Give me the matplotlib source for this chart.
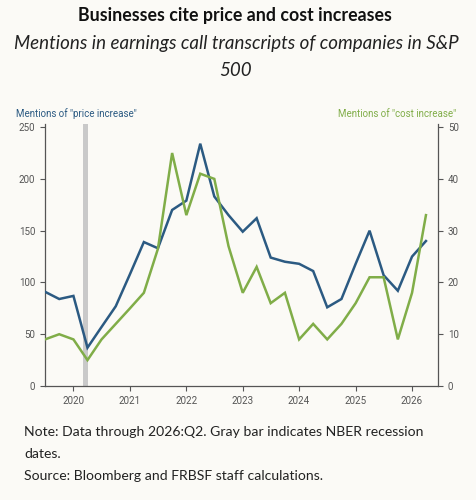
import matplotlib
matplotlib.use("Agg")
import matplotlib.pyplot as plt
import pandas as pd

quarters = pd.period_range("2019Q3", "2026Q2", freq="Q")
price_increase = [91, 84, 87, 37, 57, 77, 108, 139, 133, 170, 179, 234, 183, 165,
                  149, 162, 124, 120, 118, 111, 76, 84, 118, 150, 107, 92, 125, 140]
cost_increase = [9, 10, 9, 5, 9, 12, 15, 18, 26.5, 45, 33, 41, 40, 27,
                 18, 23, 16, 18, 9, 12, 9, 12, 16, 21, 21, 9, 18, 33]
recession = ("2020-03-01", "2020-04-05")
year_ticks = [str(y) for y in range(2020, 2027)]

BLUE = "#2b5a82"
GREEN = "#80ad48"
BG = "#fbfaf6"
GRAY = "#555555"

plt.rcParams["font.family"] = ["Lato", "DejaVu Sans"]

dates = quarters.start_time

fig = plt.figure(figsize=(4.77, 5.0), dpi=100, facecolor=BG)
ax = fig.add_axes([45/477, 1-386/500, 393/477, 262/500], facecolor=BG)
ax2 = ax.twinx()

ax.axvspan(pd.Timestamp(recession[0]), pd.Timestamp(recession[1]), color="#c9c9c9", lw=0, zorder=0)
ax.plot(dates, price_increase, color=BLUE, lw=1.8, zorder=3, solid_joinstyle="miter")
ax2.plot(dates, cost_increase, color=GREEN, lw=1.8, zorder=2, solid_joinstyle="miter")

ax.set_ylim(0, 253)
ax2.set_ylim(0, 253/5)
ax.set_yticks(range(0, 251, 50))
ax2.set_yticks(range(0, 51, 10))
ax.set_xlim(pd.Timestamp("2019-07-01"), pd.Timestamp("2026-06-18"))
ax.set_xticks([pd.Timestamp(f"{y}-01-01") for y in year_ticks])
ax.set_xticklabels(year_ticks)

for a in (ax, ax2):
    a.spines["top"].set_visible(False)
    for s in a.spines.values():
        s.set_color("#555555")
        s.set_linewidth(0.9)
    a.tick_params(colors="#555555", labelcolor=GRAY, labelsize=7, length=3.5, width=0.8)
ax.spines["right"].set_visible(False)
ax2.spines["left"].set_visible(False)
ax2.spines["bottom"].set_visible(False)
for lab in ax.get_xticklabels() + ax.get_yticklabels() + ax2.get_yticklabels():
    lab.set_family(["Roboto", "DejaVu Sans"])

fig.text(16/477, 1-114/500, 'Mentions of "price increase"', color=BLUE, fontsize=7.0,
         ha="left", va="center", family=["Roboto", "DejaVu Sans"])
fig.text(456/477, 1-114/500, 'Mentions of "cost increase"', color=GREEN, fontsize=7.0,
         ha="right", va="center", family=["Roboto", "DejaVu Sans"])

fig.text(235/477, 1-16/500, "Businesses cite price and cost increases", fontsize=12.8,
         fontweight="bold", ha="center", va="center", color="#111111")
fig.text(236/477, 1-44/500, "Mentions in earnings call transcripts of companies in S&P",
         fontsize=13.5, style="italic", ha="center", va="center", color="#222222")
fig.text(236/477, 1-71/500, "500", fontsize=13.5, style="italic", ha="center", va="center", color="#222222")

notes = ["Note: Data through 2026:Q2. Gray bar indicates NBER recession",
         "dates.",
         "Source: Bloomberg and FRBSF staff calculations."]
for i, line in enumerate(notes):
    fig.text(24/477, 1-(432 + 22*i)/500, line, fontsize=10.1, ha="left", va="center", color="#222222")

fig.savefig("out.png", dpi=100, facecolor=BG)
